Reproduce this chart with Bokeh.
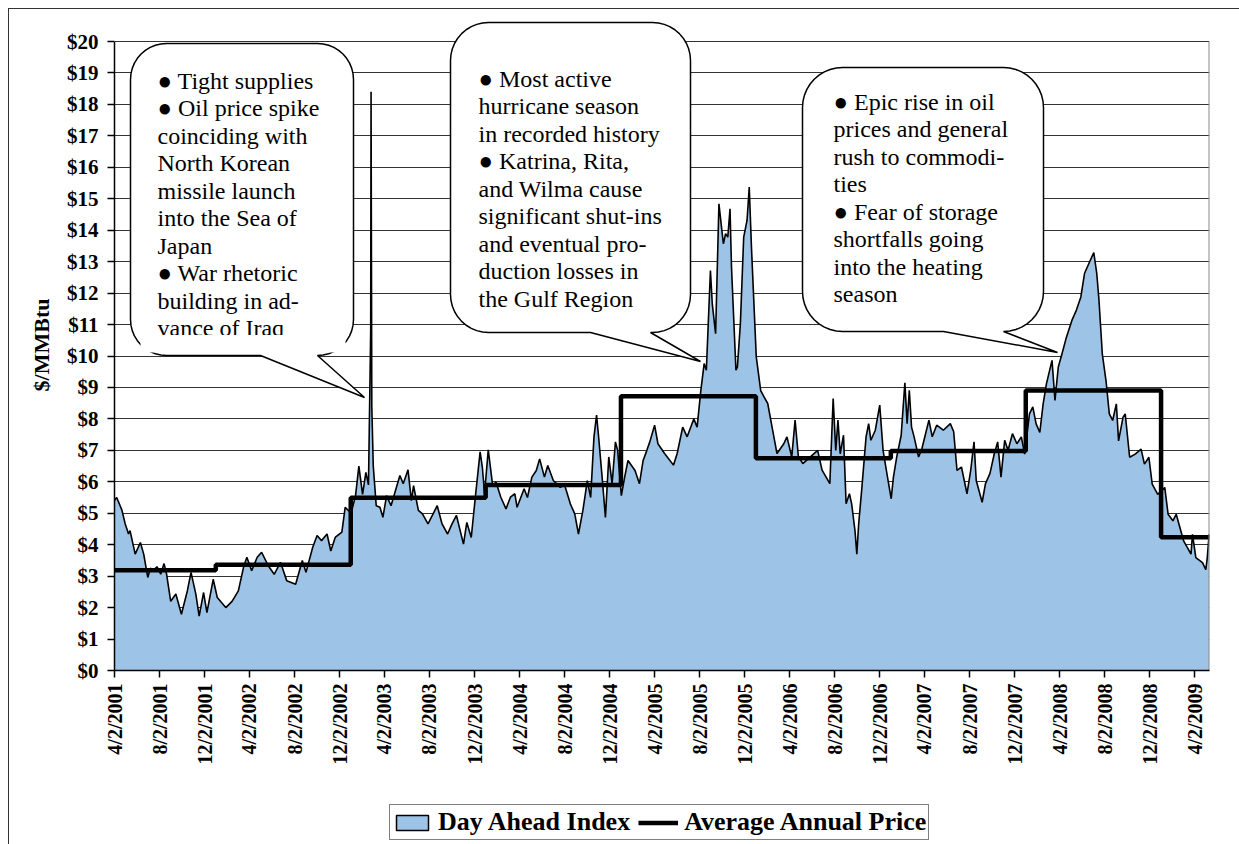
import math
import pandas as pd
from bokeh.plotting import figure
from bokeh.layouts import column
from bokeh.models import Range1d, FixedTicker, NumeralTickFormatter, Legend, LegendItem
from bokeh.core.properties import value
from bokeh.embed import file_html
from bokeh.resources import INLINE

# ---------------- data ----------------
dates = [
    "2001-04-02", "2001-04-05", "2001-04-08", "2001-04-22", "2001-05-01", "2001-05-10", "2001-05-14", "2001-05-28",
    "2001-06-11", "2001-06-20", "2001-07-01", "2001-07-08", "2001-07-17", "2001-07-26", "2001-08-05", "2001-08-14",
    "2001-08-21", "2001-09-01", "2001-09-15", "2001-09-30", "2001-10-16", "2001-10-26", "2001-11-08", "2001-11-17",
    "2001-11-29", "2001-12-08", "2001-12-25",
    "2002-01-05", "2002-01-28", "2002-02-14", "2002-03-03", "2002-03-17", "2002-03-26", "2002-04-08", "2002-04-23",
    "2002-05-05", "2002-05-23", "2002-06-08", "2002-06-25", "2002-07-12", "2002-08-05", "2002-08-23", "2002-09-02",
    "2002-09-20", "2002-10-02", "2002-10-14", "2002-10-29", "2002-11-08", "2002-11-20", "2002-12-08", "2002-12-17",
    "2003-01-02", "2003-01-14", "2003-01-23", "2003-02-02", "2003-02-11", "2003-02-18", "2003-02-24", "2003-02-25",
    "2003-02-27", "2003-03-03", "2003-03-11", "2003-03-21", "2003-03-29", "2003-04-08", "2003-04-20", "2003-05-14",
    "2003-05-23", "2003-06-05", "2003-06-14", "2003-06-20", "2003-07-03", "2003-07-14", "2003-07-29", "2003-08-23",
    "2003-09-05", "2003-09-20", "2003-10-02", "2003-10-14", "2003-11-02", "2003-11-11", "2003-11-23", "2003-12-05",
    "2003-12-17", "2003-12-23", "2003-12-29",
    "2004-01-08", "2004-01-20", "2004-01-29", "2004-02-11", "2004-02-25", "2004-03-08", "2004-03-20", "2004-03-26",
    "2004-04-14", "2004-04-23", "2004-05-05", "2004-05-17", "2004-05-26", "2004-06-08", "2004-06-17", "2004-07-02",
    "2004-07-20", "2004-08-02", "2004-08-17", "2004-08-29", "2004-09-08", "2004-09-20", "2004-10-02", "2004-10-11",
    "2004-10-20", "2004-10-27", "2004-11-02", "2004-11-11", "2004-11-20", "2004-11-29", "2004-12-08", "2004-12-17",
    "2004-12-23",
    "2005-01-02", "2005-01-11", "2005-01-20", "2005-02-08", "2005-02-20", "2005-03-02", "2005-03-12", "2005-03-20",
    "2005-04-02", "2005-04-11", "2005-04-29", "2005-05-23", "2005-06-02", "2005-06-17", "2005-06-29", "2005-07-17",
    "2005-07-26", "2005-08-05", "2005-08-14", "2005-08-20", "2005-08-31", "2005-09-05", "2005-09-14", "2005-09-23",
    "2005-10-05", "2005-10-11", "2005-10-17", "2005-10-23", "2005-10-27", "2005-11-08", "2005-11-12", "2005-11-20",
    "2005-11-29", "2005-12-08", "2005-12-14", "2005-12-20",
    "2006-01-02", "2006-01-14", "2006-01-23", "2006-02-02", "2006-02-17", "2006-02-27", "2006-03-17", "2006-03-26",
    "2006-04-08", "2006-04-17", "2006-04-26", "2006-05-08", "2006-06-17", "2006-06-29", "2006-07-20", "2006-07-29",
    "2006-08-05", "2006-08-11", "2006-08-17", "2006-08-26", "2006-09-02", "2006-09-11", "2006-09-17", "2006-09-26",
    "2006-10-01", "2006-10-06", "2006-10-14", "2006-10-26", "2006-11-02", "2006-11-08", "2006-11-20", "2006-12-02",
    "2006-12-11", "2006-12-23",
    "2007-01-02", "2007-01-08", "2007-01-17", "2007-01-29", "2007-02-08", "2007-02-14", "2007-02-20", "2007-02-26",
    "2007-03-05", "2007-03-17", "2007-03-26", "2007-04-05", "2007-04-14", "2007-04-23", "2007-05-05", "2007-05-23",
    "2007-06-11", "2007-06-20", "2007-06-29", "2007-07-11", "2007-07-26", "2007-08-05", "2007-08-14", "2007-08-20",
    "2007-09-05", "2007-09-14", "2007-09-26", "2007-10-08", "2007-10-17", "2007-10-26", "2007-11-05", "2007-11-14",
    "2007-11-26", "2007-12-08", "2007-12-20", "2007-12-29",
    "2008-01-11", "2008-01-20", "2008-01-29", "2008-02-08", "2008-02-17", "2008-02-26", "2008-03-12", "2008-03-20",
    "2008-03-29", "2008-04-08", "2008-04-20", "2008-05-05", "2008-05-17", "2008-05-29", "2008-06-08", "2008-06-20",
    "2008-07-03", "2008-07-11", "2008-07-17", "2008-07-26", "2008-08-05", "2008-08-14", "2008-08-23", "2008-09-02",
    "2008-09-08", "2008-09-20", "2008-09-26", "2008-10-08", "2008-10-23", "2008-11-08", "2008-11-17", "2008-11-29",
    "2008-12-08", "2008-12-23",
    "2009-01-11", "2009-01-20", "2009-02-02", "2009-02-11", "2009-02-26", "2009-03-03", "2009-03-23", "2009-03-27",
    "2009-04-05", "2009-04-23", "2009-05-02", "2009-05-06", "2009-05-11",
]
prices = [
    5.40, 5.46, 5.50, 5.10, 4.66, 4.34, 4.45, 3.70, 4.07, 3.70, 2.96, 3.25, 3.20, 3.30, 3.06, 3.40,
    3.06, 2.20, 2.43, 1.79, 2.53, 3.12, 2.43, 1.73, 2.48, 1.84, 2.90,
    2.32, 2.00, 2.20, 2.53, 3.28, 3.60, 3.17, 3.60, 3.76, 3.33, 3.06, 3.44, 2.85, 2.74, 3.50, 3.12,
    3.91, 4.29, 4.13, 4.34, 3.80, 4.23, 4.40, 5.19,
    5.00, 5.56, 6.50, 5.60, 6.30, 5.90, 10.80, 18.40, 8.40, 6.50, 5.24, 5.19, 4.87, 5.56, 5.24, 6.20,
    5.94, 6.38, 5.40, 5.88, 5.09, 4.98, 4.66, 5.24, 4.66, 4.34, 4.66, 4.93, 4.02, 4.71, 4.23, 5.62,
    6.95, 6.47, 5.62,
    7.02, 5.88, 5.99, 5.51, 5.14, 5.51, 5.62, 5.19, 5.78, 5.50, 6.15, 6.36, 6.73, 6.15, 6.52, 6.04,
    5.83, 5.88, 5.30, 4.98, 4.34, 5.09, 6.04, 5.50, 7.43, 8.12, 7.37, 6.15, 4.87, 6.79, 5.94, 7.27,
    7.00,
    5.56, 6.15, 6.68, 6.36, 5.94, 6.68, 7.00, 7.27, 7.80, 7.21, 6.90, 6.53, 6.90, 7.74, 7.43, 8.00,
    7.74, 8.90, 9.76, 9.55, 12.72, 11.66, 10.71, 14.84, 13.57, 13.89, 13.78, 14.68, 12.83, 9.55, 9.65, 11.03,
    13.78, 14.31, 15.37, 13.46,
    9.97, 8.90, 8.70, 8.49, 7.53, 6.90, 7.20, 7.43, 6.79, 7.96, 6.79, 6.58, 7.00, 6.37, 5.94, 8.65,
    7.00, 7.96, 6.89, 7.48, 5.30, 5.62, 5.30, 4.45, 3.70, 4.66, 5.72, 7.43, 7.85, 7.32, 7.64, 8.44,
    7.00, 6.15,
    5.46, 6.15, 6.79, 7.48, 9.15, 7.85, 8.91, 7.74, 7.43, 6.79, 7.05, 7.53, 7.96, 7.43, 7.80, 7.64,
    7.85, 7.59, 6.36, 6.47, 5.62, 6.36, 7.27, 6.04, 5.35, 5.94, 6.26, 6.90, 7.27, 6.15, 7.32, 7.00,
    7.53, 7.21, 7.43, 6.88,
    8.16, 8.38, 7.84, 7.57, 8.48, 9.12, 9.86, 8.59, 9.65, 10.07, 10.60, 11.14, 11.46, 11.88, 12.63, 12.95,
    13.29, 12.63, 11.78, 10.07, 9.22, 8.16, 7.95, 8.48, 7.30, 8.05, 8.16, 6.78, 6.88, 7.04, 6.56, 6.78,
    5.93, 5.60,
    5.82, 4.97, 4.76, 4.97, 4.33, 4.12, 3.70, 4.33, 3.59, 3.43, 3.21, 3.59, 4.33,
]

year_starts = ["2001-04-02", "2002-01-01", "2003-01-01", "2004-01-01", "2005-01-01",
               "2006-01-01", "2007-01-01", "2008-01-01", "2009-01-01"]
annual_avg = [3.19, 3.36, 5.49, 5.90, 8.72, 6.75, 6.98, 8.90, 4.24]
series_end = "2009-05-12"

tick_labels = ["4/2/2001", "8/2/2001", "12/2/2001", "4/2/2002", "8/2/2002", "12/2/2002",
               "4/2/2003", "8/2/2003", "12/2/2003", "4/2/2004", "8/2/2004", "12/2/2004",
               "4/2/2005", "8/2/2005", "12/2/2005", "4/2/2006", "8/2/2006", "12/2/2006",
               "4/2/2007", "8/2/2007", "12/2/2007", "4/2/2008", "8/2/2008", "12/2/2008",
               "4/2/2009"]
y_ticks = list(range(0, 21))

callout_1 = ["\u25cf Tight supplies", "\u25cf Oil price spike", "coinciding with", "North Korean",
             "missile launch", "into the Sea of", "Japan", "\u25cf War rhetoric",
             "building in ad-", "vance of Iraq"]
callout_2 = ["\u25cf Most active", "hurricane season", "in recorded history", "\u25cf Katrina, Rita,",
             "and Wilma cause", "significant shut-ins", "and eventual pro-", "duction losses in",
             "the Gulf Region"]
callout_3 = ["\u25cf Epic rise in oil", "prices and general", "rush to commodi-", "ties",
             "\u25cf Fear of storage", "shortfalls going", "into the heating", "season"]

# ---------------- helpers ----------------
START = pd.Timestamp("2001-04-02")


def day(s):
    return (pd.Timestamp(s) - START).days


x = [day(d) for d in dates]
x_end = day(series_end)
step_x = [day(d) for d in year_starts] + [x_end]
step_y = annual_avg + [annual_avg[-1]]
tick_pos = [day(t) for t in tick_labels]

FONT = "Liberation Serif"
BLUE = "#9DC3E6"

# page-pixel layout (canvas starts at page (9, 9) after margin + border)
OX, OY = 9, 9
FL, FR, FT, FB = 114, 1209, 19, 670
SPLIT = 799          # page y where the legend strip begins
Y_TOP = 20.7
W = 1239 - OX


def px2x(px):
    return (px - FL) / (FR - FL) * x_end


def py2y(py):
    return (FB - py) / (FB - FT) * Y_TOP


p = figure(width=W, height=SPLIT - OY, x_range=Range1d(0, x_end), y_range=Range1d(0, Y_TOP),
           output_backend="svg", toolbar_location=None,
           min_border_left=FL - OX, min_border_right=1239 - FR, min_border_top=FT - OY,
           min_border_bottom=SPLIT - FB)
p.outline_line_color = None
p.background_fill_color = "white"
p.border_fill_color = "white"

# grid
p.xgrid.visible = False
p.ygrid.ticker = FixedTicker(ticks=y_ticks)
p.ygrid.grid_line_color = "#333333"
p.ygrid.grid_line_width = 1

# data
p.varea(x=x, y1=0, y2=prices, fill_color=BLUE)
p.line(x=x, y=prices, line_color="black", line_width=1.6)
p.step(x=step_x, y=step_y, mode="after", line_color="black", line_width=4.5)
p.segment(x0=[x_end], y0=[0], x1=[x_end], y1=[20], line_color="#8a8a8a", line_width=2)


# callouts
def bubble(left, top, right, bottom, r, base_l, base_r, tip):
    pts = []
    n = 10

    def arc(cx, cy, a0, a1):
        for i in range(n + 1):
            a = math.radians(a0 + (a1 - a0) * i / n)
            pts.append((cx + r * math.cos(a), cy + r * math.sin(a)))

    arc(right - r, top + r, -90, 0)
    arc(right - r, bottom - r, 0, 90)
    pts.append((base_r, bottom))
    pts.append(tip)
    pts.append((base_l, bottom))
    arc(left + r, bottom - r, 90, 180)
    arc(left + r, top + r, 180, 270)
    return [px2x(a) for a, b in pts], [py2y(b) for a, b in pts]


bubbles = [
    (130, 43, 353, 355, 36, 260, 317, (364, 397), callout_1, 157, 80),
    (450, 22, 690, 332, 38, 590, 650, (700, 361), callout_2, 478, 78),
    (802, 67, 1043, 331, 40, 943, 1003, (1057, 352), callout_3, 833, 101),
]
for (l, t, r_, b, rad, bl, br, tip, lines, tx, ty) in bubbles:
    bx, by = bubble(l, t, r_, b, rad, bl, br, tip)
    p.patch(bx, by, fill_color="white", line_color="black", line_width=1.5)
    p.text(x=[px2x(tx)] * len(lines), y=[py2y(ty + 27.5 * i) for i in range(len(lines))], text=lines,
           text_font=value(FONT), text_font_size="24px", text_baseline="middle", text_align="left",
           text_color="black")
# the last line of the first callout is cut off by the callout's edge
p.quad(left=[px2x(140)], right=[px2x(345)], top=[py2y(334.5)], bottom=[py2y(352)],
       fill_color="white", line_color=None)

# axes
p.yaxis.ticker = FixedTicker(ticks=y_ticks)
p.yaxis.bounds = (0, 20)
p.yaxis.formatter = NumeralTickFormatter(format="$0")
p.xaxis.ticker = FixedTicker(ticks=tick_pos)
p.xaxis.major_label_overrides = {tp: lbl for tp, lbl in zip(tick_pos, tick_labels)}
p.xaxis.major_label_orientation = math.pi / 2
for ax in (p.xaxis[0], p.yaxis[0]):
    ax.major_label_text_font = FONT
    ax.major_label_text_font_style = "bold"
    ax.major_label_text_font_size = "20px"
    ax.major_label_text_color = "black"
    ax.axis_line_color = "black"
    ax.axis_line_width = 1.5
    ax.major_tick_line_color = "black"
    ax.major_tick_line_width = 1.5
    ax.major_tick_out = 7
    ax.major_tick_in = 0
    ax.minor_tick_line_color = None
yax = p.yaxis[0]
yax.major_label_text_font_size = "21px"
yax.axis_label = "$/MMBtu"
yax.axis_label_text_font = FONT
yax.axis_label_text_font_style = "bold"
yax.axis_label_text_font_size = "22px"
yax.axis_label_text_color = "black"
yax.major_label_standoff = 9
yax.axis_label_standoff = 10
p.xaxis[0].major_label_standoff = 6

# ---------------- legend strip ----------------
lg = figure(width=W, height=844 - SPLIT, x_range=Range1d(0, 1), y_range=Range1d(0, 1),
            output_backend="svg", toolbar_location=None, min_border=0)
lg.axis.visible = False
lg.grid.visible = False
lg.outline_line_color = None
lg.border_fill_color = "white"
# key samples sit outside the visible range; only their legend glyphs show
area_key = lg.quad(left=[5], right=[6], top=[6], bottom=[5], fill_color=BLUE, line_color="black",
                   line_width=1.5)
avg_key = lg.line(x=[5, 6], y=[5, 5], line_color="black", line_width=4.5)

legend = Legend(items=[LegendItem(label="Day Ahead Index", renderers=[area_key]),
                       LegendItem(label="Average Annual Price", renderers=[avg_key])],
                orientation="horizontal", location=(389 - FL, 4))
legend.label_text_font = FONT
legend.label_text_font_style = "bold"
legend.label_text_font_size = "26px"
legend.label_text_color = "black"
legend.border_line_color = "black"
legend.border_line_width = 1.5
legend.padding = 2
legend.spacing = 8
legend.margin = 0
legend.glyph_width = 40
legend.glyph_height = 19
legend.label_standoff = 6
legend.label_height = 26
legend.background_fill_alpha = 1
lg.add_layout(legend, "center")

layout = column(p, lg, spacing=0)
layout.styles = {"margin-left": "8px", "margin-top": "8px",
                 "border-left": "1px solid #333", "border-top": "1px solid #333"}

open("out.html", "w").write(file_html(layout, INLINE))
